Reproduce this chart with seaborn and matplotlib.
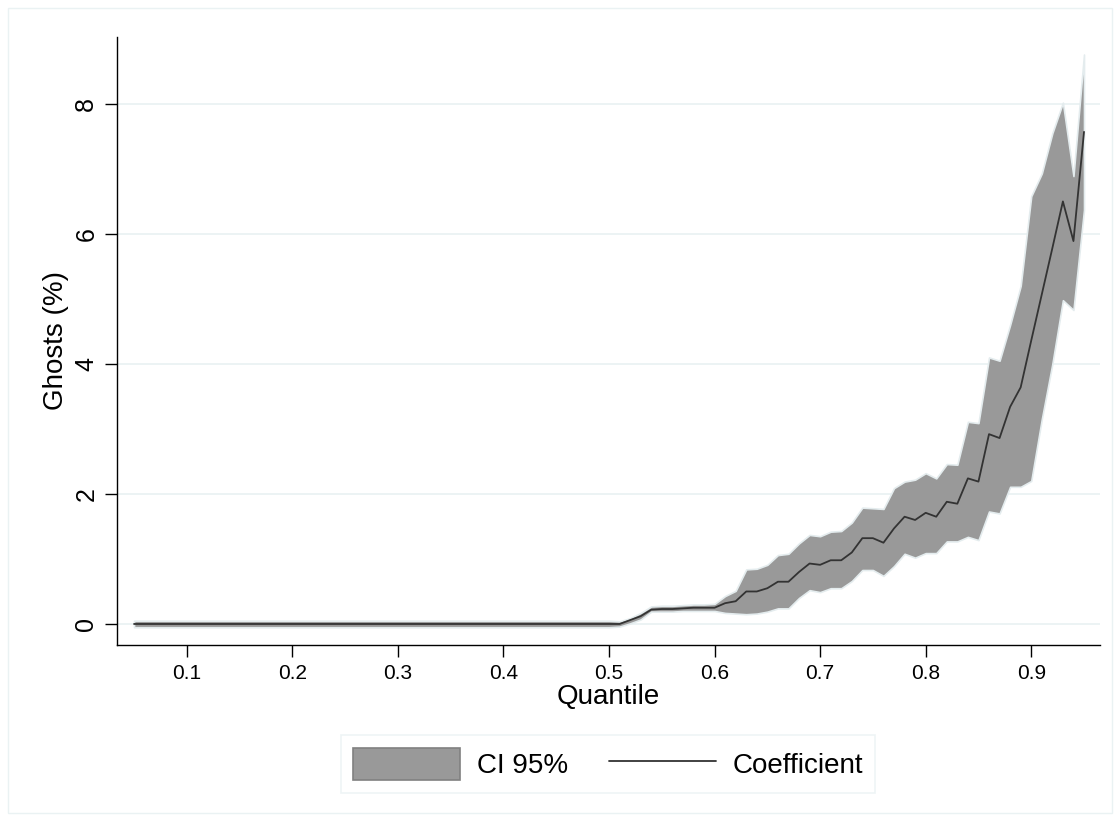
import numpy as np
import pandas as pd
import matplotlib
matplotlib.use("Agg")
import matplotlib.pyplot as plt
import matplotlib.patches as mpatches
from matplotlib.lines import Line2D
import seaborn as sns

sns.set_style("white")
plt.rcParams['font.family'] = ['Liberation Sans', 'DejaVu Sans']
plt.rcParams['text.color'] = 'black'
plt.rcParams['axes.labelcolor'] = 'black'
plt.rcParams['xtick.color'] = 'black'
plt.rcParams['ytick.color'] = 'black'

# quantiles 0.05 ... 0.95
quantiles = [round(0.05 + 0.01 * i, 2) for i in range(91)]

# 0.05-0.50 flat at zero, then 0.51 ... 0.95
coef = [0.0] * 46 + [
    0.00, 0.06, 0.12, 0.22, 0.23, 0.23, 0.24, 0.25, 0.25, 0.25,
    0.32, 0.35, 0.50, 0.50, 0.55, 0.65, 0.65, 0.80, 0.93, 0.91,
    0.98, 0.98, 1.10, 1.32, 1.32, 1.25, 1.47, 1.65, 1.60, 1.71,
    1.65, 1.88, 1.85, 2.24, 2.19, 2.92, 2.86, 3.34, 3.64, 4.36,
    5.07, 5.78, 6.50, 5.89, 7.57]
ci_upper = [0.05] * 46 + [
    0.04, 0.09, 0.17, 0.27, 0.28, 0.28, 0.29, 0.30, 0.30, 0.31,
    0.43, 0.51, 0.84, 0.85, 0.91, 1.06, 1.08, 1.24, 1.37, 1.35,
    1.42, 1.43, 1.56, 1.79, 1.78, 1.77, 2.09, 2.19, 2.22, 2.32,
    2.24, 2.46, 2.45, 3.11, 3.09, 4.10, 4.05, 4.60, 5.20, 6.58,
    6.93, 7.55, 8.02, 6.89, 8.76]
ci_lower = [-0.05] * 46 + [
    -0.04, 0.01, 0.07, 0.19, 0.19, 0.19, 0.20, 0.20, 0.20, 0.20,
    0.17, 0.16, 0.15, 0.16, 0.19, 0.24, 0.24, 0.40, 0.52, 0.49,
    0.55, 0.55, 0.66, 0.83, 0.83, 0.74, 0.89, 1.08, 1.02, 1.09,
    1.09, 1.27, 1.27, 1.34, 1.29, 1.73, 1.70, 2.11, 2.11, 2.20,
    3.15, 4.00, 4.98, 4.83, 6.37]

df = pd.DataFrame({"q": quantiles, "coef": coef, "lo": ci_lower, "hi": ci_upper})

band_col = "#999999"
line_col = "#333333"
grid_col = "#eaf2f3"

fig = plt.figure(figsize=(11.2, 8.21), dpi=100)
ax = fig.add_axes([0.1045, 0.2144, 0.8775, 0.7406])

ax.fill_between(df["q"], df["lo"], df["hi"], color=band_col,
                edgecolor="#e4ecee", linewidth=1.2, zorder=2)
sns.lineplot(data=df, x="q", y="coef", color=line_col, linewidth=1.3,
             ax=ax, zorder=3)

ax.set_xlim(0.0339, 0.965)
ax.set_ylim(-0.323, 9.03)
ax.set_xticks([0.1, 0.2, 0.3, 0.4, 0.5, 0.6, 0.7, 0.8, 0.9])
ax.set_xticklabels(["0.1", "0.2", "0.3", "0.4", "0.5", "0.6", "0.7", "0.8", "0.9"])
ax.set_yticks([0, 2, 4, 6, 8])
ax.set_yticklabels(["0", "2", "4", "6", "8"], rotation=90, va="center")

ax.yaxis.grid(True, color=grid_col, linewidth=1.3, zorder=0)
ax.xaxis.grid(False)
ax.set_axisbelow(True)

for s in ["top", "right"]:
    ax.spines[s].set_visible(False)
for s in ["left", "bottom"]:
    ax.spines[s].set_color("black")
    ax.spines[s].set_linewidth(1.0)

ax.tick_params(axis="x", direction="out", length=8.5, width=1, color="black",
               labelcolor="black", labelsize=15, pad=5, bottom=True)
ax.tick_params(axis="y", direction="out", length=8.5, width=1, color="black",
               labelcolor="black", labelsize=18, pad=5, left=True)

ax.set_xlabel("Quantile", fontsize=20, labelpad=1, color="black")
ax.set_ylabel("Ghosts (%)", fontsize=20, labelpad=4, color="black")

handles = [mpatches.Patch(facecolor=band_col, edgecolor="#808080", linewidth=1.2),
           Line2D([0], [0], color=line_col, linewidth=1.3)]
leg = fig.legend(handles, ["CI 95%", "Coefficient"], loc="center",
                 bbox_to_anchor=(608 / 1120, 1 - 764 / 821), ncol=2, fontsize=20,
                 frameon=True, fancybox=False, handlelength=3.85,
                 handleheight=1.4, columnspacing=1.47, handletextpad=0.6,
                 borderpad=0.45, labelcolor="black")
leg.get_frame().set_edgecolor(grid_col)
leg.get_frame().set_linewidth(1.2)

# outer graph region border
fig.patches.append(mpatches.Rectangle((8 / 1120, 8 / 821), 1104 / 1120, 805 / 821,
                                      transform=fig.transFigure, fill=False,
                                      edgecolor=grid_col, linewidth=1.0))

fig.savefig("out.png", dpi=100, facecolor="white")
